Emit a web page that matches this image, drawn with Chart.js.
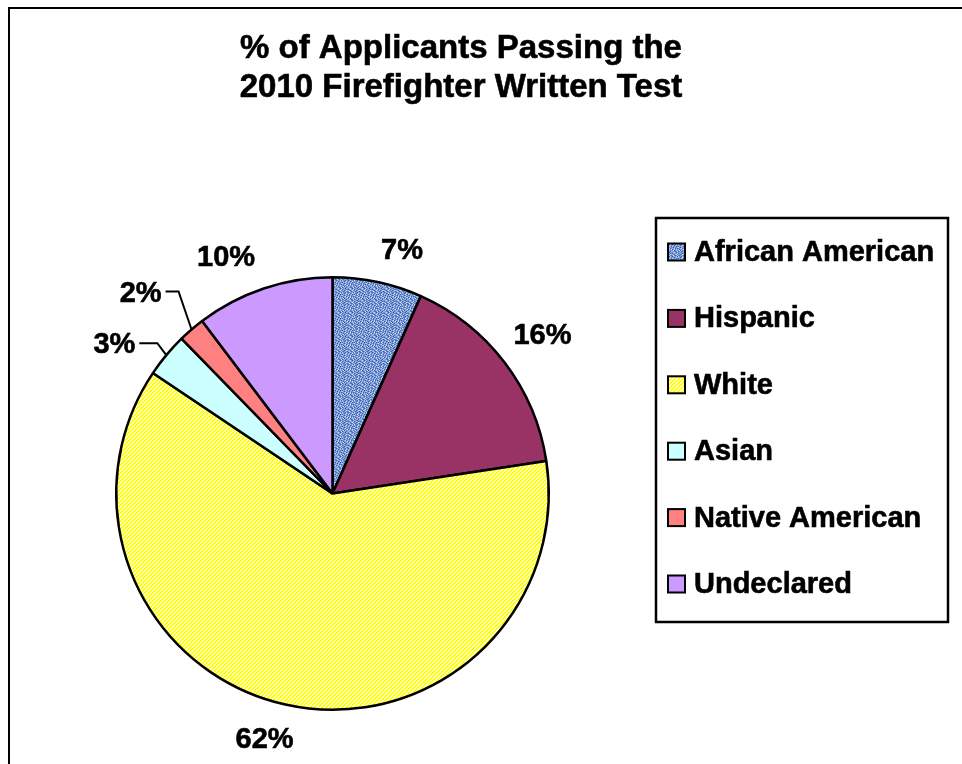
<!DOCTYPE html>
<html>
<head>
<meta charset="utf-8">
<title>% of Applicants Passing the 2010 Firefighter Written Test</title>
<script src="https://cdn.jsdelivr.net/npm/chart.js@4.4.1/dist/chart.umd.min.js"></script>
<style>
    html, body { margin: 0; padding: 0; background: #fff; }
    #chartHolder { position: relative; width: 962px; height: 764px; }
</style>
</head>
<body>
<div id="chartHolder"><canvas id="pieChart" width="962" height="764"></canvas></div>
<script>
// Data (slice shares, in %)
const categories = ['African American', 'Hispanic', 'White', 'Asian', 'Native American', 'Undeclared'];
const passShares = [6.7, 15.9, 61.8, 3.3, 2.0, 10.3];
const titleLines = ['% of Applicants Passing the', '2010 Firefighter Written Test'];

const FONT = '"Liberation Sans", Arial, sans-serif';

// Small tiled fills that mimic the Excel pattern fills
function makePattern(rows, palette) {
    const tile = document.createElement('canvas');
    tile.width = rows[0].length;
    tile.height = rows.length;
    const tctx = tile.getContext('2d');
    for (let y = 0; y < rows.length; y++) {
        for (let x = 0; x < rows[y].length; x++) {
            tctx.fillStyle = palette[rows[y][x]];
            tctx.fillRect(x, y, 1, 1);
        }
    }
    return document.createElement('canvas').getContext('2d').createPattern(tile, 'repeat');
}

// Blue mottled "denim" texture for African American
const denim = makePattern([
    'mlwmdmlmmdlm',
    'dmlmmwdmlmdm',
    'lmdlwmmldmwl',
    'mwmdmlmdmlmd',
    'dmlmldwmmdlm',
    'mldmwmlmdmwm',
    'wmmldmdlmwmd',
    'mdlmmlwmdmlm',
    'lmwdmdmmlwdm',
    'dmlmwmldmmlw',
    'mwdmlmmwdlmm',
    'lmmdmwdmlmdl'
], { d: '#3f62a6', m: '#7092d2', l: '#9ab5e6', w: '#c9d9f4' });

// Yellow fine diagonal hatch for White
const yellowHatch = makePattern([
    'yyw.',
    'yw.y',
    'w.yy',
    '.yyw'
], { y: '#ffff00', w: '#ffff99', '.': '#ffffff' });

const sliceColors = [denim, '#993366', yellowHatch, '#ccffff', '#ff8080', '#cc99ff'];

// Heavy text, a touch bolder than plain bold like the Excel rendering
function heavyText(ctx, text, x, y) {
    ctx.fillText(text, x, y);
    ctx.strokeText(text, x, y);
}

// Frame, title, custom legend and the percentage labels
const decorPlugin = {
    id: 'decor',
    afterDraw(chart, args, opts) {
        const ctx = chart.ctx;
        ctx.save();

        // outer chart frame (runs off the right/bottom edge)
        ctx.strokeStyle = '#000';
        ctx.lineWidth = 2;
        ctx.beginPath();
        ctx.moveTo(9, chart.height);
        ctx.lineTo(9, 8);
        ctx.lineTo(chart.width, 8);
        ctx.stroke();

        // title
        ctx.fillStyle = '#000';
        ctx.textAlign = 'center';
        ctx.textBaseline = 'alphabetic';
        ctx.font = 'bold 33px ' + FONT;
        ctx.lineWidth = 0.6;
        titleLines.forEach((line, i) => heavyText(ctx, line, 461, 58 + i * 39));

        // legend box
        const lg = opts.legendBox;
        ctx.lineWidth = 2.5;
        ctx.strokeRect(lg.x, lg.y, lg.w, lg.h);
        ctx.font = 'bold 29px ' + FONT;
        ctx.textAlign = 'left';
        ctx.textBaseline = 'middle';
        categories.forEach((name, i) => {
            const cy = lg.firstRow + i * lg.rowGap;
            ctx.fillStyle = sliceColors[i];
            ctx.fillRect(lg.x + 12, cy - 8.5, 17, 17);
            ctx.lineWidth = 2;
            ctx.strokeStyle = '#000';
            ctx.strokeRect(lg.x + 12, cy - 8.5, 17, 17);
            ctx.fillStyle = '#000';
            ctx.lineWidth = 0.6;
            heavyText(ctx, name, lg.x + 38, cy + 1);
        });

        // percentage labels
        const arcs = chart.getDatasetMeta(0).data;
        ctx.font = 'bold 29px ' + FONT;
        arcs.forEach((arc, i) => {
            const p = arc.getProps(['x', 'y', 'startAngle', 'endAngle', 'outerRadius'], true);
            const mid = (p.startAngle + p.endAngle) / 2;
            const text = Math.round(passShares[i]) + '%';
            const leader = opts.leaders[i];
            ctx.fillStyle = '#000';
            if (leader) {
                const sx = p.x + Math.cos(mid) * p.outerRadius;
                const sy = p.y + Math.sin(mid) * p.outerRadius;
                const ex = sx + leader.elbow[0];
                const ey = sy + leader.elbow[1];
                ctx.lineWidth = 2;
                ctx.beginPath();
                ctx.moveTo(sx, sy);
                ctx.lineTo(ex, ey);
                ctx.lineTo(ex - leader.run, ey);
                ctx.stroke();
                ctx.textAlign = 'right';
                ctx.lineWidth = 0.6;
                heavyText(ctx, text, ex - leader.run - 4, ey + 2);
            } else {
                const r = p.outerRadius + opts.labelGap;
                const nudge = opts.nudges[i] || [0, 0];
                ctx.textAlign = 'center';
                ctx.lineWidth = 0.6;
                heavyText(ctx, text, p.x + Math.cos(mid) * r + nudge[0], p.y + Math.sin(mid) * r + nudge[1]);
            }
        });

        ctx.restore();
    }
};

const pieConfig = {
    type: 'pie',
    data: {
        labels: categories,
        datasets: [{
            data: passShares,
            backgroundColor: sliceColors,
            borderColor: '#000',
            borderWidth: 2.5
        }]
    },
    options: {
        responsive: false,
        animation: false,
        devicePixelRatio: 1,
        layout: {
            padding: { left: 115, right: 412, top: 276, bottom: 53 }
        },
        plugins: {
            legend: { display: false },
            title: { display: false },
            tooltip: { enabled: false },
            decor: {
                legendBox: { x: 656, y: 218, w: 292, h: 404, firstRow: 252, rowGap: 66.4 },
                labelGap: 40,
                nudges: { 0: [16, 8], 1: [6, -2], 2: [-12, -4], 5: [-25, 7] },
                leaders: { 3: { elbow: [-9, -12], run: 18 }, 4: { elbow: [-13, -38], run: 13 } }
            }
        }
    },
    plugins: [decorPlugin]
};

new Chart(document.getElementById('pieChart').getContext('2d'), pieConfig);
</script>
</body>
</html>
